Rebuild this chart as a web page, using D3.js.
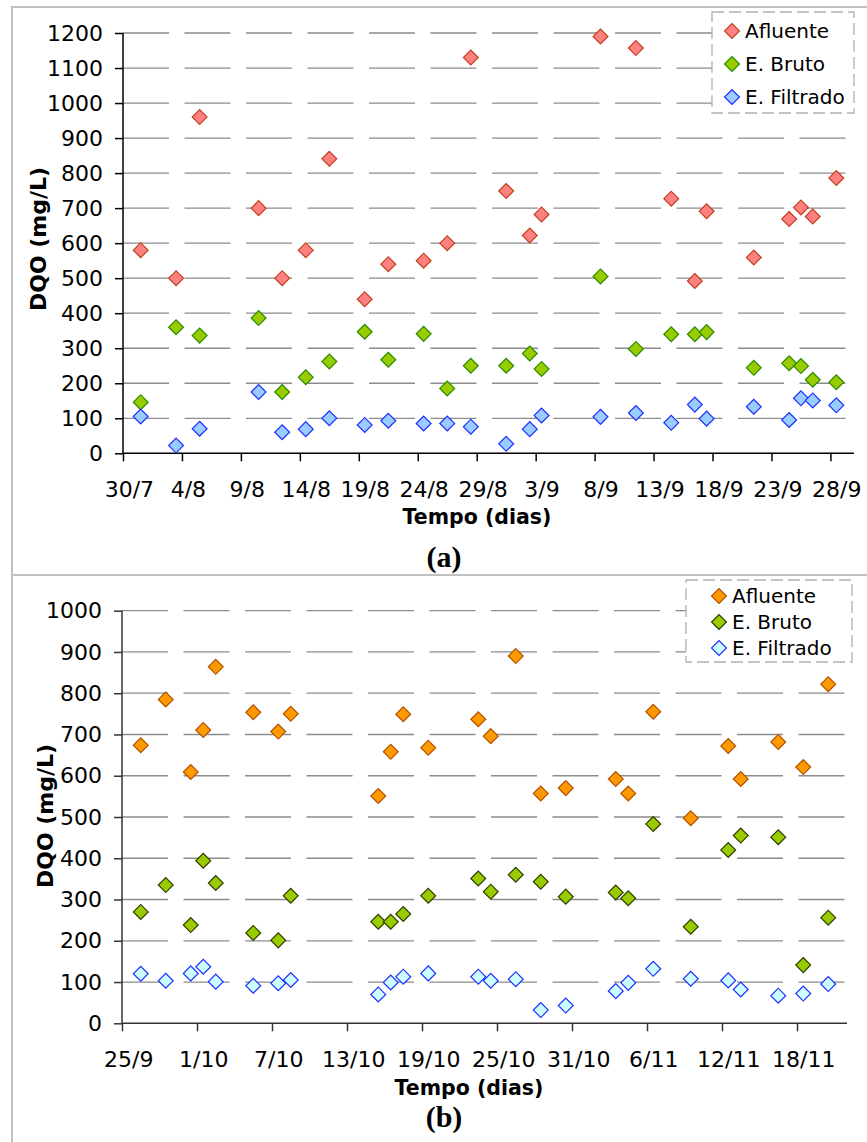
<!DOCTYPE html>
<html>
<head>
<meta charset="utf-8">
<style>
  body { margin: 0; background: #fff; }
  svg { display: block; }
  .tick text { font-family: "DejaVu Sans", sans-serif; font-size: 22px; fill: #000; }
</style>
</head>
<body>
<svg width="867" height="1142"></svg>
<script src="https://d3js.org/d3.v7.min.js"></script>
<script>

// ---- panel (a): 30/7 .. 30/9 ----
var datesA = ["31/7","3/8","5/8","10/8","12/8","14/8","16/8","19/8","21/8","24/8","26/8","28/8","31/8",
              "2/9","3/9","8/9","11/9","14/9","16/9","17/9","21/9","24/9","25/9","26/9","28/9"];
var afluenteA = [580,500,960,700,500,580,841,440,540,550,600,1130,749,622,682,1190,1157,727,492,691,559,669,702,676,786];
var brutoA    = [146,360,336,386,175,217,262,347,267,341,185,250,250,285,241,505,298,340,340,346,244,257,249,210,203];
var filtradoA = [105,22,70,175,60,69,100,81,93,85,85,76,27,69,108,104,115,87,139,99,133,95,157,151,137];
var tickLabelsA = ["30/7","4/8","9/8","14/8","19/8","24/8","29/8","3/9","8/9","13/9","18/9","23/9","28/9"];

// ---- panel (b): 25/9 .. 22/11 ----
var datesB = ["26/9","28/9","30/9","1/10","2/10","5/10","7/10","8/10","15/10","16/10","17/10","19/10","23/10",
              "24/10","26/10","28/10","30/10","3/11","4/11","6/11","9/11","12/11","13/11","16/11","18/11","20/11"];
var afluenteB = [674,785,609,711,864,754,707,750,551,658,749,668,737,696,890,557,570,592,557,755,497,672,592,682,621,822];
var brutoB    = [270,335,238,394,340,219,201,309,246,246,265,309,351,319,360,343,307,317,303,483,234,420,455,451,141,256];
var filtradoB = [120,103,121,137,101,91,97,105,70,99,113,121,113,103,107,32,43,78,98,132,108,104,82,67,72,95];
var tickLabelsB = ["25/9","1/10","7/10","13/10","19/10","25/10","31/10","6/11","12/11","18/11"];

var seriesNames = ["Afluente", "E. Bruto", "E. Filtrado"];

var parse = function(s) { return d3.utcParse("%d/%m/%Y")(s + "/2007"); };

var svg = d3.select("svg");

// panel frames (light grey, run off the right / bottom edge)
svg.append("rect").attr("x", 12).attr("y", 7).attr("width", 880).attr("height", 568)
    .attr("fill", "none").attr("stroke", "#c0c0c0").attr("stroke-width", 2);
svg.append("rect").attr("x", 12).attr("y", 575).attr("width", 880).attr("height", 600)
    .attr("fill", "none").attr("stroke", "#c0c0c0").attr("stroke-width", 2);

var diamond = d3.symbol().type(d3.symbolSquare).size(110)();

function panel(cfg) {
  var g = svg.append("g");
  var x = d3.scaleUtc().domain([parse(cfg.start), parse(cfg.end)]).range([cfg.left, cfg.right]);
  var y = d3.scaleLinear().domain([0, cfg.ymax]).range([cfg.bottom, cfg.top]);
  var half = function(d) { return x(d3.utcHour.offset(d, 12)); };
  var halfPx = half(parse(cfg.start)) - cfg.left;

  // grid
  g.append("g").selectAll("line")
    .data(y.ticks(cfg.ymax / 100).filter(function(v) { return v > 0; }))
    .join("line")
      .attr("x1", cfg.left).attr("x2", cfg.right)
      .attr("y1", function(v) { return y(v); }).attr("y2", function(v) { return y(v); })
      .attr("stroke", "#8c8c8c").attr("stroke-width", 1.3)
      .attr("stroke-dasharray", "46,15.5");

  // axes
  var ya = g.append("g").attr("transform", "translate(" + cfg.left + ",0)")
    .call(d3.axisLeft(y).ticks(cfg.ymax / 100).tickSize(8).tickPadding(12).tickFormat(d3.format("d")));
  var xa = g.append("g").attr("transform", "translate(0," + cfg.bottom + ")")
    .call(d3.axisBottom(x).tickValues(cfg.ticks.map(parse)).tickSize(8).tickPadding(20)
      .tickFormat(function(d, i) { return cfg.ticks[i]; }));
  xa.selectAll(".tick text").attr("x", halfPx);
  [ya, xa].forEach(function(a) {
    a.select(".domain").attr("stroke", cfg.axisColor).attr("stroke-width", 1.5);
    a.selectAll(".tick line").attr("stroke", cfg.axisColor).attr("stroke-width", 1.5);
  });
  xa.select(".domain").attr("d", "M" + cfg.left + ",0H" + cfg.right);
  ya.select(".domain").attr("d", "M0," + cfg.top + "V" + cfg.bottom);

  // points
  var dates = cfg.dates.map(parse);
  cfg.series.forEach(function(vals, k) {
    g.append("g").selectAll("path")
      .data(vals)
      .join("path")
        .attr("d", diamond)
        .attr("transform", function(v, i) { return "translate(" + half(dates[i]) + "," + y(v) + ") rotate(45)"; })
        .attr("fill", cfg.fills[k]).attr("stroke", cfg.strokes[k]).attr("stroke-width", 1.2);
  });

  // axis titles
  g.append("text")
    .attr("transform", "translate(" + cfg.ylabX + "," + cfg.ylabY + ") rotate(-90)")
    .attr("text-anchor", "middle")
    .attr("font-family", "DejaVu Sans, sans-serif").attr("font-weight", "bold").attr("font-size", 22)
    .text("DQO (mg/L)");
  g.append("text")
    .attr("x", cfg.xlabX).attr("y", cfg.xlabY)
    .attr("text-anchor", "middle")
    .attr("font-family", "DejaVu Sans, sans-serif").attr("font-weight", "bold").attr("font-size", 20.5)
    .text("Tempo (dias)");
  g.append("text")
    .attr("x", 444).attr("y", cfg.capY)
    .attr("text-anchor", "middle")
    .attr("font-family", "Liberation Serif, Times New Roman, serif").attr("font-weight", "bold").attr("font-size", 30)
    .text(cfg.caption);

  // legend
  var L = cfg.legend;
  var lg = g.append("g");
  lg.append("rect").attr("x", L.x).attr("y", L.y).attr("width", L.w).attr("height", L.h)
    .attr("fill", "#fff").attr("stroke", "#b0b0b0").attr("stroke-width", 1.3)
    .attr("stroke-dasharray", "12,5");
  seriesNames.forEach(function(name, k) {
    var cy = L.row0 + k * L.step;
    lg.append("path").attr("d", diamond)
      .attr("transform", "translate(" + L.mx + "," + cy + ") rotate(45)")
      .attr("fill", cfg.fills[k]).attr("stroke", cfg.strokes[k]).attr("stroke-width", 1.2);
    lg.append("text").attr("x", L.mx + 13).attr("y", cy + 7)
      .attr("font-family", "DejaVu Sans, sans-serif").attr("font-size", 20)
      .text(name);
  });
}

panel({
  start: "30/7", end: "30/9", ymax: 1200,
  left: 123, right: 854, top: 33, bottom: 453.3,
  ticks: tickLabelsA, dates: datesA,
  series: [afluenteA, brutoA, filtradoA],
  fills: ["#ff8080", "#99cc00", "#99ccff"],
  strokes: ["#c0401c", "#2a8a00", "#1f2dff"],
  axisColor: "#000",
  ylabX: 46, ylabY: 239, xlabX: 477, xlabY: 524, capY: 567, caption: "(a)",
  legend: { x: 712, y: 12, w: 142, h: 101, mx: 732, row0: 31, step: 33 }
});

panel({
  start: "25/9", end: "22/11", ymax: 1000,
  left: 122, right: 847, top: 610.7, bottom: 1023.3,
  ticks: tickLabelsB, dates: datesB,
  series: [afluenteB, brutoB, filtradoB],
  fills: ["#ff9900", "#99cc00", "#ccffff"],
  strokes: ["#b05000", "#2d3d00", "#1f2dff"],
  axisColor: "#333",
  ylabX: 53, ylabY: 816, xlabX: 469, xlabY: 1095, capY: 1127, caption: "(b)",
  legend: { x: 686, y: 580, w: 166, h: 82, mx: 719, row0: 596, step: 26 }
});

</script>
</body>
</html>
